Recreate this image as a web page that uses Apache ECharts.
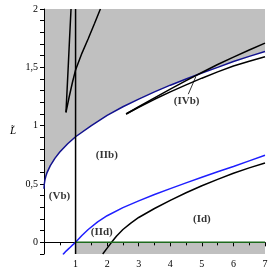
<!DOCTYPE html>
<html><head><meta charset="utf-8">
<script src="https://cdn.jsdelivr.net/npm/echarts@6/dist/echarts.min.js"></script>
<style>html,body{margin:0;padding:0;background:#fff}#c{width:273px;height:273px}</style>
</head><body><div id="c"></div>
<script>
// Upper (dark blue) boundary of shaded region
const upperBlueX = [0, 0.01, 0.03, 0.06, 0.1, 0.2, 0.35, 0.5, 0.75, 1, 1.5, 2, 2.5, 3, 3.5, 4, 4.5, 5, 5.5, 6, 6.5, 7];
const upperBlueY = [0.459, 0.50, 0.535, 0.568, 0.60, 0.658, 0.722, 0.774, 0.845, 0.905, 1.00, 1.088, 1.162, 1.228, 1.29, 1.347, 1.40, 1.452, 1.50, 1.55, 1.594, 1.636];
// Lower (bright blue) curve
const lowerBlueX = [0.6, 0.7, 0.8, 0.9, 1, 1.2, 1.4, 1.7, 2, 2.5, 3, 3.5, 4, 4.5, 5, 5.5, 6, 6.5, 7];
const lowerBlueY = [-0.105, -0.075, -0.05, -0.024, 0, 0.058, 0.11, 0.175, 0.228, 0.298, 0.355, 0.41, 0.46, 0.51, 0.558, 0.605, 0.65, 0.698, 0.746];
// Lower black curve
const lowerBlackX = [1.86, 2, 2.14, 2.3, 2.5, 2.75, 3, 3.5, 4, 4.5, 5, 5.5, 6, 6.5, 7];
const lowerBlackY = [-0.1, -0.05, 0, 0.055, 0.11, 0.165, 0.213, 0.29, 0.36, 0.425, 0.485, 0.54, 0.592, 0.638, 0.68];
// Cusp near E^2 ~ 0.7
const cuspLeftX = [0.696, 0.73, 0.77, 0.81, 0.856];
const cuspLeftY = [1.114, 1.30, 1.52, 1.75, 2.0];
const cuspRightX = [0.696, 0.8, 0.9, 1, 1.2, 1.4, 1.6, 1.77, 1.79];
const cuspRightY = [1.114, 1.25, 1.37, 1.478, 1.62, 1.745, 1.875, 1.99, 2.0];
// Swallowtail (IVb) branches
const swUpperX = [2.6, 3, 3.5, 4, 4.5, 5, 5.5, 6, 6.5, 7];
const swUpperY = [1.10, 1.162, 1.238, 1.313, 1.386, 1.456, 1.524, 1.588, 1.649, 1.707];
const swLowerX = [2.6, 3, 3.5, 4, 4.5, 5, 5.5, 6, 6.5, 7];
const swLowerY = [1.10, 1.158, 1.226, 1.29, 1.35, 1.407, 1.461, 1.512, 1.552, 1.59];
// Vertical line E^2 = 1 and green segment on L = 0
const vertX = [1, 1];
const vertY = [-0.1, 2];
const greenX = [1, 7];
const greenY = [0, 0];
// Region labels
const regionNames = ['(IIb)', '(Vb)', '(IId)', '(Id)', '(IVb)'];
const regionX = [1.99, 0.49, 1.83, 5.0, 4.52];
const regionY = [0.75, 0.40, 0.083, 0.20, 1.21];
const leaderX = [4.57, 4.81];
const leaderY = [1.27, 1.42];
// Ticks
const yLabelValues = [0, 0.5, 1, 1.5, 2];
const yTickValues = [-0.1,0,0.1,0.2,0.3,0.4,0.5,0.6,0.7,0.8,0.9,1,1.1,1.2,1.3,1.4,1.5,1.6,1.7,1.8,1.9,2];

const zip = (a, b) => a.map((v, i) => [v, b[i]]);
const GRAY = '#c0c0c0';
const FONT = 'Liberation Serif';
function line(xs, ys, color, z) {
  return {type: 'line', data: zip(xs, ys), symbol: 'none', silent: true,
    lineStyle: {color: color, width: 1.5}, z: z || 6, animation: false};
}

const chart = echarts.init(document.getElementById('c'), null, {renderer: 'canvas'});
chart.setOption({
  animation: false,
  grid: {left: 44, right: 8, top: 9, bottom: 19, containLabel: false, outerBoundsMode: 'none'},
  xAxis: {
    type: 'value', min: 0, max: 7, interval: 1, z: 5,
    axisLine: {onZero: true, lineStyle: {color: '#000', width: 1}},
    axisTick: {length: 4, lineStyle: {color: '#000'}},
    minorTick: {show: true, splitNumber: 2, length: 3, lineStyle: {color: '#000'}},
    splitLine: {show: false},
    axisLabel: {margin: 5, color: '#000', fontFamily: FONT, fontSize: 10,
      formatter: v => v === 0 ? '' : String(v)},
    name: '{e|E}{s|2}', nameLocation: 'middle', nameGap: 14,
    nameTextStyle: {rich: {
      e: {fontFamily: FONT, fontStyle: 'italic', fontSize: 11, color: '#000'},
      s: {fontFamily: FONT, fontSize: 7, color: '#000', verticalAlign: 'bottom', padding: [0, 0, 6, 0]}
    }}
  },
  yAxis: {
    type: 'value', min: -0.1, max: 2, z: 5,
    axisLine: {onZero: true, lineStyle: {color: '#000', width: 1}},
    axisTick: {length: 4, lineStyle: {color: '#000'}, customValues: yTickValues},
    splitLine: {show: false},
    axisLabel: {margin: 6, color: '#000', fontFamily: FONT, fontSize: 10, customValues: yLabelValues,
      formatter: v => String(v).replace('.', ',')},
    name: 'L\u0303', nameLocation: 'middle', nameRotate: 0, nameGap: 28,
    nameTextStyle: {fontFamily: FONT, fontStyle: 'italic', fontSize: 11, color: '#000'}
  },
  series: [
    {type: 'line', data: zip(upperBlueX, upperBlueY), symbol: 'none', silent: true, z: 1,
      lineStyle: {width: 0}, areaStyle: {origin: 'end', color: GRAY, opacity: 1}},
    {type: 'line', data: zip(greenX, greenY), symbol: 'none', silent: true, z: 1,
      lineStyle: {width: 0}, areaStyle: {origin: 'start', color: GRAY, opacity: 1}},
    line(greenX, greenY, '#1d6b1d', 7),
    line(upperBlueX, upperBlueY, '#12128f', 6),
    line(lowerBlueX, lowerBlueY, '#1f1fff', 6),
    line(lowerBlackX, lowerBlackY, '#000', 6),
    line(vertX, vertY, '#000', 8),
    line(cuspLeftX, cuspLeftY, '#000', 6),
    line(cuspRightX, cuspRightY, '#000', 6),
    line(swUpperX, swUpperY, '#000', 6),
    line(swLowerX, swLowerY, '#000', 6),
    {type: 'line', data: zip(leaderX, leaderY), symbol: 'none', silent: true, z: 9,
      lineStyle: {color: '#000', width: 0.8}},
    {type: 'scatter', symbolSize: 0, silent: true, z: 10,
      data: regionNames.map((n, i) => [regionX[i], regionY[i], n]),
      label: {show: true, position: 'inside', formatter: p => p.data[2],
        fontFamily: FONT, fontWeight: 'bold', fontSize: 11, color: '#000'}}
  ]
});
</script></body></html>
